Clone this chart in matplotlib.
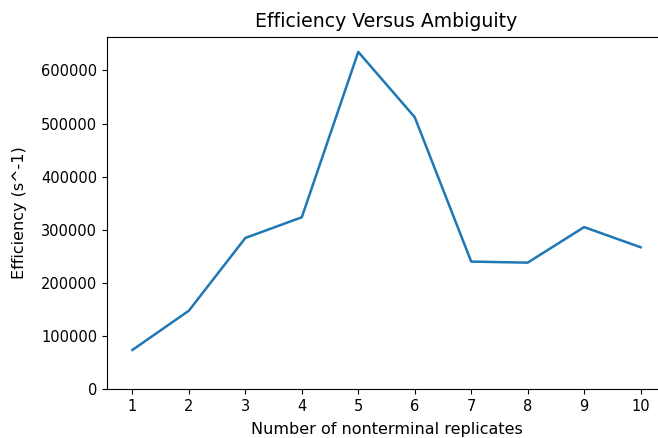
import matplotlib
matplotlib.use("Agg")
import matplotlib.pyplot as plt

replicates = [1, 2, 3, 4, 5, 6, 7, 8, 9, 10]
efficiency = [73500, 147500, 284500, 323500, 635000, 512000, 240000, 238000, 305000, 267000]

W, H = 658, 438
fig = plt.figure(figsize=(W / 100, H / 100), dpi=100)
ax = fig.add_axes([107 / W, (H - 389) / H, (666 - 107) / W, (389 - 37) / H])
ax.plot(replicates, efficiency, color="#1f77b4", linewidth=1.8)
ax.set_xticks(replicates)
ax.set_ylim(bottom=0)
ax.spines["right"].set_visible(False)
ax.set_title("Efficiency Versus Ambiguity", fontsize=13.6, pad=7)
ax.set_xlabel("Number of nonterminal replicates", fontsize=11.5, labelpad=6)
ax.set_ylabel("Efficiency (s^-1)", fontsize=11.5, labelpad=10)
ax.tick_params(labelsize=10.5)
fig.savefig("out.png", dpi=100)
